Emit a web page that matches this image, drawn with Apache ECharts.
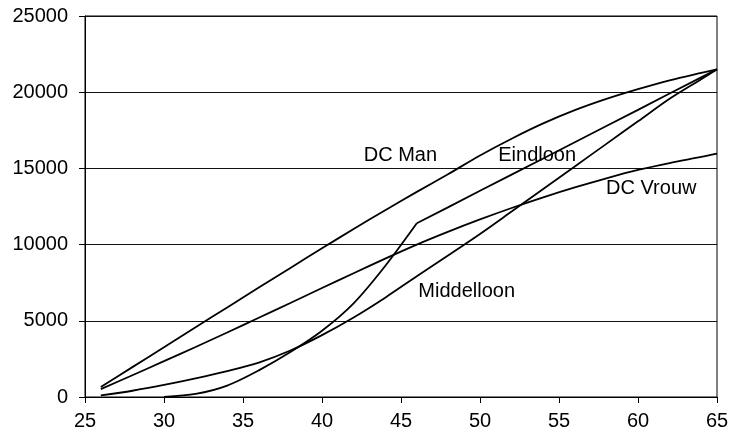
<!DOCTYPE html>
<html>
<head>
<meta charset="utf-8">
<script src="https://cdn.jsdelivr.net/npm/echarts@6/dist/echarts.min.js"></script>
<style>
html,body{margin:0;padding:0;background:#fff;}
#chart{width:732px;height:441px;}
</style>
</head>
<body>
<div id="chart"></div>
<script>
// Leeftijd (x) en opbouw per regeling (y)
const ages       = [26, 28, 30, 32, 34, 36, 38, 40, 42, 44, 46, 48, 50, 52, 54, 56, 58, 60, 62, 64, 65];
const dcMan      = [650, 1960, 3270, 4580, 5880, 7180, 8470, 9760, 11020, 12260, 13460, 14630, 15850, 16950, 17950, 18820, 19560, 20200, 20780, 21270, 21500];
const dcVrouw    = [520, 1430, 2350, 3280, 4230, 5200, 6170, 7150, 8120, 9080, 10000, 10850, 11650, 12400, 13100, 13750, 14350, 14900, 15350, 15750, 15970];
const middelloon = [100, 410, 790, 1220, 1700, 2260, 3050, 4060, 5220, 6520, 7920, 9300, 10700, 12170, 13650, 15130, 16610, 18090, 19570, 20850, 21500];
const eindloon   = [null, null, 0, 200, 750, 1750, 2950, 4350, 6150, 8600, 11400, 12460, 13530, 14590, 15650, 16720, 17780, 18840, 19910, 20970, 21500];
const eindloonKinkAge = 46;

// Lijnlabels
const labelTexts  = ['DC Man', 'Eindloon', 'DC Vrouw', 'Middelloon'];
const labelAges   = [44.96, 53.62, 60.84, 49.16];
const labelValues = [15860, 15820, 13660, 6940];

const FONT = "'Liberation Sans', Arial, Helvetica, sans-serif";

function pairs(xs, ys, filter) {
  const out = [];
  xs.forEach((x, i) => {
    if (ys[i] === null) return;
    if (filter && !filter(x)) return;
    out.push([x, ys[i]]);
  });
  return out;
}

const lineStyle = { color: '#000', width: 1.8 };
function lineSeries(name, data, smooth) {
  return {
    name, type: 'line', data,
    smooth: smooth,
    showSymbol: false, symbol: 'none',
    lineStyle, itemStyle: { color: '#000' },
    silent: true, z: 3
  };
}

const chart = echarts.init(document.getElementById('chart'), null, { renderer: 'canvas' });
chart.setOption({
  animation: false,
  backgroundColor: '#fff',
  textStyle: { fontFamily: FONT },
  grid: { left: 85, right: 15, top: 16, bottom: 44, show: true, borderColor: '#000', borderWidth: 1, backgroundColor: 'transparent' },
  xAxis: {
    type: 'value', min: 25, max: 65, interval: 5,
    axisLine: { show: true, lineStyle: { color: '#000', width: 1 } },
    axisTick: { show: true, inside: false, length: 6, lineStyle: { color: '#000' } },
    axisLabel: { color: '#000', fontSize: 20, fontFamily: FONT, margin: 14 },
    splitLine: { show: false }
  },
  yAxis: {
    type: 'value', min: 0, max: 25000, interval: 5000,
    axisLine: { show: true, lineStyle: { color: '#000', width: 1 } },
    axisTick: { show: true, inside: false, length: 6, lineStyle: { color: '#000' } },
    axisLabel: { color: '#000', fontSize: 20, fontFamily: FONT, margin: 17, formatter: v => String(v) },
    splitLine: { show: true, lineStyle: { color: '#111', width: 1 } }
  },
  series: [
    lineSeries('DC Man', pairs(ages, dcMan), 0.3),
    lineSeries('DC Vrouw', pairs(ages, dcVrouw), 0.3),
    lineSeries('Middelloon', pairs(ages, middelloon), 0.3),
    lineSeries('Eindloon', pairs(ages, eindloon, x => x <= eindloonKinkAge), 0.3),
    lineSeries('Eindloon lineair', pairs(ages, eindloon, x => x >= eindloonKinkAge), false),
    {
      type: 'scatter', silent: true, z: 5,
      symbol: 'circle', symbolSize: 2, itemStyle: { color: '#fff', opacity: 0 },
      data: labelTexts.map((t, i) => [labelAges[i], labelValues[i], t]),
      label: {
        show: true, position: 'inside', color: '#000', opacity: 1,
        textBorderWidth: 0, textBorderColor: 'transparent',
        fontSize: 20, fontFamily: FONT,
        formatter: p => p.data[2]
      },
      emphasis: { disabled: true },
      labelLayout: { hideOverlap: false }
    }
  ]
});
</script>
</body>
</html>
